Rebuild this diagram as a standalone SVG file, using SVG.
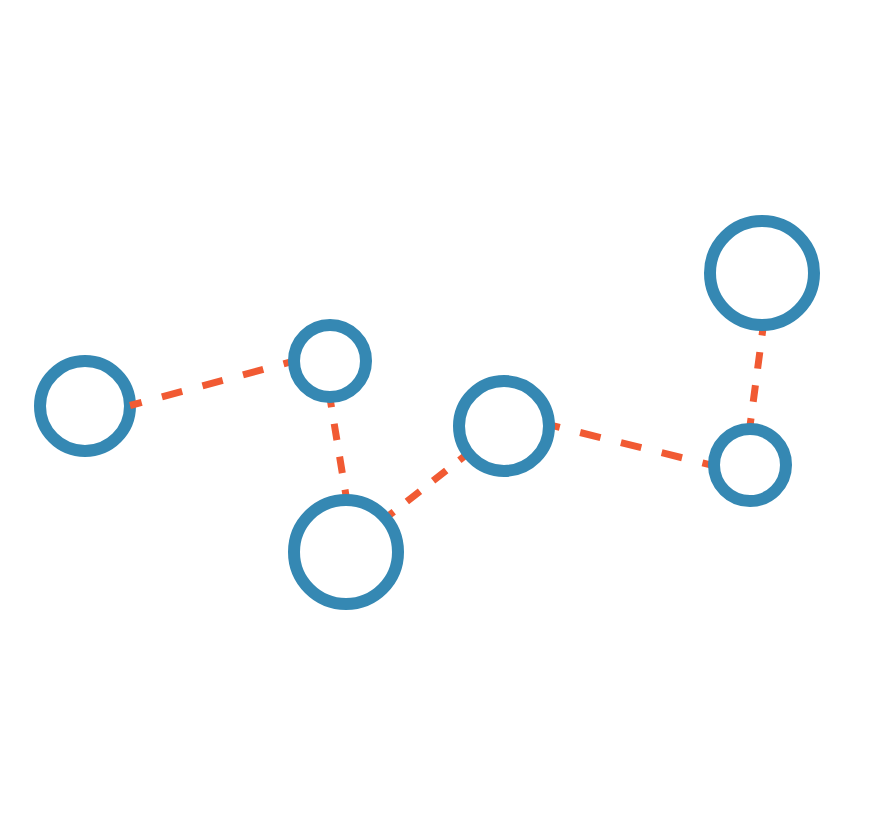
<svg xmlns="http://www.w3.org/2000/svg" width="896" height="840" viewBox="0 0 896 840">
<style>
.edge{stroke:#f15a33;stroke-width:7;fill:none}
.long{stroke-dasharray:21 21}
.short{stroke-dasharray:16.7 16.7}
.node{fill:#fff;stroke:#3588b3;stroke-width:12}
</style>
<rect width="896" height="840" fill="#fff"/>
<g id="n1"><circle class="node" cx="85" cy="406" r="45"/></g>
<g id="edges">
<line class="edge long" x1="130" y1="405.5" x2="323" y2="353.1" stroke-dashoffset="8.9"/>
<line class="edge short" x1="323.9" y1="361" x2="355.5" y2="553.5" stroke-dashoffset="3.25"/>
<line class="edge short" x1="346" y1="549.3" x2="503.2" y2="425.7" stroke-dashoffset="22.8"/>
<line class="edge long" x1="504" y1="413.6" x2="749.6" y2="474.5" stroke-dasharray="21.15 21.15" stroke-dashoffset="5.55"/>
<line class="edge short" x1="744.8" y1="465" x2="770.5" y2="271.8" stroke-dashoffset="3"/>
</g>
<g id="n2"><circle class="node" cx="330" cy="361" r="36"/></g>
<g id="n3"><circle class="node" cx="346" cy="552" r="52"/></g>
<g id="n4"><circle class="node" cx="504" cy="426" r="45"/></g>
<g id="n5"><circle class="node" cx="762" cy="273" r="52"/></g>
<g id="n6"><circle class="node" cx="750" cy="465" r="36"/></g>
</svg>
